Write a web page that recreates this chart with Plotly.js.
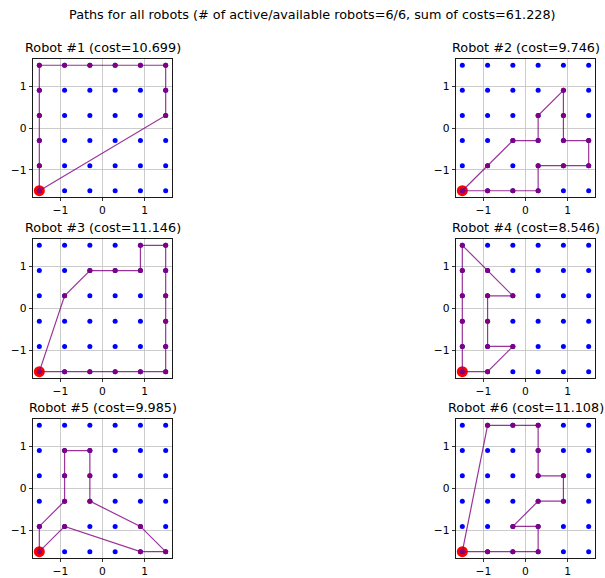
<!DOCTYPE html>
<html>
<head>
<meta charset="utf-8">
<script src="https://cdn.plot.ly/plotly-3.0.1.min.js"></script>
<style>
  html, body { margin: 0; padding: 0; background: #ffffff; }
  #chart { width: 605px; height: 578px; }
</style>
</head>
<body>
<div id="chart"></div>
<script>
// Candidate grid coordinates (same on both axes)
const gridValues = [-1.5, -0.9, -0.3, 0.3, 0.9, 1.5];

// Depot every robot starts from and returns to
const startX = -1.5;
const startY = -1.5;

// Tour of each robot, depot to depot
const robot1X = [-1.5, -1.5, -1.5, -1.5, -1.5, -1.5, -0.9, -0.3, 0.3, 0.9, 1.5, 1.5, 1.5, -1.5];
const robot1Y = [-1.5, -0.9, -0.3, 0.3, 0.9, 1.5, 1.5, 1.5, 1.5, 1.5, 1.5, 0.9, 0.3, -1.5];

const robot2X = [-1.5, -0.9, -0.3, 0.3, 0.3, 0.9, 0.9, 0.9, 1.5, 1.5, 0.9, 0.3, 0.3, -0.3, -0.9, -1.5];
const robot2Y = [-1.5, -0.9, -0.3, -0.3, 0.3, 0.9, 0.3, -0.3, -0.3, -0.9, -0.9, -0.9, -1.5, -1.5, -1.5, -1.5];

const robot3X = [-1.5, -0.9, -0.3, 0.3, 0.9, 0.9, 1.5, 1.5, 1.5, 1.5, 1.5, 1.5, 0.9, 0.3, -0.3, -0.9, -1.5];
const robot3Y = [-1.5, 0.3, 0.9, 0.9, 0.9, 1.5, 1.5, 0.9, 0.3, -0.3, -0.9, -1.5, -1.5, -1.5, -1.5, -1.5, -1.5];

const robot4X = [-1.5, -0.9, -0.3, -0.9, -0.9, -0.9, -0.3, -0.9, -1.5, -1.5, -1.5, -1.5, -1.5, -1.5];
const robot4Y = [-1.5, -1.5, -0.9, -0.9, -0.3, 0.3, 0.3, 0.9, 1.5, 0.9, 0.3, -0.3, -0.9, -1.5];

const robot5X = [-1.5, -1.5, -0.9, -0.9, -0.9, -0.3, -0.3, -0.3, 0.9, 1.5, 0.9, -0.9, -1.5];
const robot5Y = [-1.5, -0.9, -0.3, 0.3, 0.9, 0.9, 0.3, -0.3, -0.9, -1.5, -1.5, -0.9, -1.5];

const robot6X = [-1.5, -0.9, -0.3, 0.3, 0.3, 0.3, 0.9, 0.9, 0.3, -0.3, 0.3, 0.3, -0.3, -0.9, -1.5];
const robot6Y = [-1.5, 1.5, 1.5, 1.5, 0.9, 0.3, 0.3, -0.3, -0.3, -0.9, -0.9, -1.5, -1.5, -1.5, -1.5];

// Tour costs and totals shown in the titles
const robotNames = ['Robot #1', 'Robot #2', 'Robot #3', 'Robot #4', 'Robot #5', 'Robot #6'];
const robotCosts = ['10.699', '9.746', '11.146', '8.546', '9.985', '11.108'];
const activeRobots = 6;
const availableRobots = 6;
const totalCost = '61.228';

const pathsX = [robot1X, robot2X, robot3X, robot4X, robot5X, robot6X];
const pathsY = [robot1Y, robot2Y, robot3Y, robot4Y, robot5Y, robot6Y];

// Panel placement (pixels in a 605x578 figure), 3 rows x 2 columns
const W = 605, H = 578;
const colPx = [[33, 172], [456, 595]];
const rowPx = [[59, 197], [239, 378], [419, 558]];

const FONT = 'DejaVu Sans, Verdana, sans-serif';

// Every grid point, flattened
const allX = [], allY = [];
gridValues.forEach(gy => gridValues.forEach(gx => { allX.push(gx); allY.push(gy); }));

const traces = [];
const layout = {
  width: W, height: H,
  margin: { l: 0, r: 0, t: 0, b: 0 },
  paper_bgcolor: '#ffffff',
  plot_bgcolor: '#ffffff',
  showlegend: false,
  font: { family: FONT, color: '#000000' },
  annotations: []
};

for (let i = 0; i < 6; i++) {
  const row = Math.floor(i / 2), col = i % 2;
  const n = i + 1;
  const xa = 'x' + (n === 1 ? '' : n), ya = 'y' + (n === 1 ? '' : n);
  const xdom = [colPx[col][0] / W, colPx[col][1] / W];
  const ydom = [1 - rowPx[row][1] / H, 1 - rowPx[row][0] / H];

  const axisCommon = {
    range: [-1.65, 1.65],
    tickvals: [-1, 0, 1],
    ticks: 'outside', ticklen: 3.5, tickwidth: 0.8, tickcolor: '#000000',
    showgrid: true, gridcolor: '#c6c6c6', gridwidth: 0.9,
    zeroline: false,
    showline: true, linecolor: '#000000', linewidth: 0.9, mirror: true,
    tickfont: { family: FONT, size: 10.7, color: '#000000' },
    fixedrange: true
  };
  layout['xaxis' + (n === 1 ? '' : n)] = Object.assign({}, axisCommon, { domain: xdom, anchor: ya });
  layout['yaxis' + (n === 1 ? '' : n)] = Object.assign({}, axisCommon, { domain: ydom, anchor: xa });

  // all grid points
  traces.push({
    type: 'scatter', mode: 'markers', x: allX, y: allY, xaxis: xa, yaxis: ya,
    marker: { color: '#0000ff', size: 5 }, hoverinfo: 'skip', cliponaxis: false
  });
  // depot
  traces.push({
    type: 'scatter', mode: 'markers', x: [startX], y: [startY], xaxis: xa, yaxis: ya,
    marker: { color: '#ff0000', size: 11 }, hoverinfo: 'skip', cliponaxis: false
  });
  // tour
  traces.push({
    type: 'scatter', mode: 'lines+markers', x: pathsX[i], y: pathsY[i], xaxis: xa, yaxis: ya,
    line: { color: 'rgba(128,0,128,0.8)', width: 1.2 },
    marker: { color: '#800080', size: 5 }, hoverinfo: 'skip', cliponaxis: false
  });

  // panel title
  layout.annotations.push({
    xref: 'paper', yref: 'paper',
    x: (xdom[0] + xdom[1]) / 2, y: ydom[1],
    xanchor: 'center', yanchor: 'bottom', yshift: 2,
    showarrow: false,
    text: robotNames[i] + ' (cost=' + robotCosts[i] + ')',
    font: { family: FONT, size: 12.8, color: '#000000' }
  });
}

// figure title
layout.annotations.push({
  xref: 'paper', yref: 'paper',
  x: 312 / W, y: 1 - 14.5 / H,
  xanchor: 'center', yanchor: 'middle',
  showarrow: false,
  text: 'Paths for all robots (# of active/available robots=' + activeRobots + '/' + availableRobots +
        ', sum of costs=' + totalCost + ')',
  font: { family: FONT, size: 12.8, color: '#000000' }
});

Plotly.newPlot('chart', traces, layout, { displayModeBar: false, staticPlot: true });
</script>
</body>
</html>
